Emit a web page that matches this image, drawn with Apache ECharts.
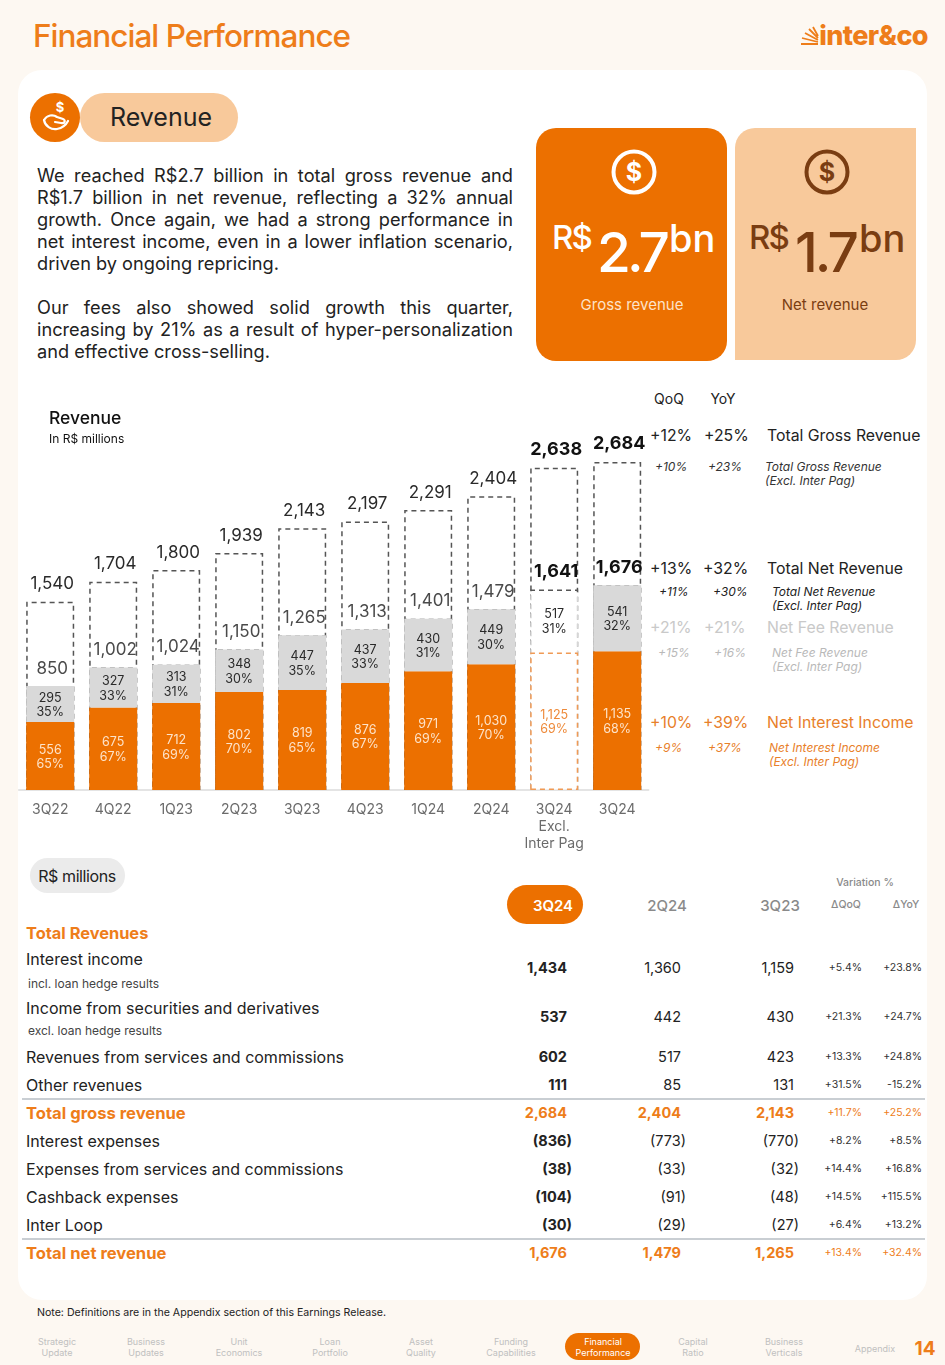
<!DOCTYPE html>
<html>
<head>
<meta charset="utf-8">
<title>Financial Performance</title>
<script src="https://cdn.jsdelivr.net/npm/echarts@6/dist/echarts.min.js"></script>
<style>
	html, body { margin: 0; padding: 0; }
	body { width: 945px; height: 1365px; background: #fdf8f2; position: relative; overflow: hidden; font-family: Inter, sans-serif; color: #222; }
	.box { position: absolute; }
	.t { position: absolute; white-space: nowrap; line-height: 1; }
	#chart { position: absolute; left: 0; top: 390px; width: 650px; height: 470px; }
	.para { position: absolute; left: 37px; width: 476px; font-size: 18.2px; line-height: 22px; color: #222; }
	.para div { text-align: justify; text-align-last: justify; white-space: nowrap; height: 22px; }
	.para div.last { text-align-last: left; }
</style>
</head>
<body>
<div class="box" style="left:18px;top:70px;width:909px;height:1230px;background:#fff;border-radius:24px"></div>
<div class="box" style="left:30px;top:93px;width:50px;height:49px;background:#ec7000;border-radius:50%"></div>
<div class="box" style="left:80px;top:93px;width:158px;height:49px;background:#f8c99b;border-radius:25px"></div>
<div class="box" style="left:536px;top:128px;width:191px;height:233px;background:#ec7000;border-radius:20px"></div>
<div class="box" style="left:735px;top:128px;width:181px;height:232px;background:#f8c99b;border-radius:20px 0 20px 0"></div>
<div class="box" style="left:507px;top:885px;width:76px;height:39px;background:#ec7000;border-radius:20px"></div>
<div class="box" style="left:30px;top:858px;width:95px;height:35px;background:#ebebeb;border-radius:18px"></div>
<div class="box" style="left:22px;top:1098px;width:903px;height:2px;background:#c9ced3"></div>
<div class="box" style="left:22px;top:1238px;width:903px;height:2px;background:#c9ced3"></div>
<div class="box" style="left:565px;top:1333px;width:75px;height:27px;background:#ec7000;border-radius:14px"></div>

<svg class="box" style="left:0;top:0" width="945" height="400" fill="none">
	<!-- logo sunburst -->
	<g stroke="#ee7d1a" stroke-width="1.8">
		<path d="M818 44H801M818 42L802 38M818 40L805 33M818 38L809 29M818 36L813 27" />
	</g>
	<!-- hand icon -->
	<g stroke="#fff" stroke-width="2.2" stroke-linecap="round" stroke-linejoin="round">
		<path d="M44 120c3-5 9-6 13-3l6 2c3 1 2 5-2 4l-6-1" />
		<path d="M44 120c1 6 7 10 13 9 5-1 9-4 11-8" />
	</g>
	<text x="60" y="112" fill="#fff" font-size="13" font-weight="700" text-anchor="middle" font-family="Inter">$</text>
	<!-- dollar badges -->
	<circle cx="634" cy="172" r="20.5" stroke="#fff" stroke-width="4" />
	<text x="634" y="181" fill="#fff" font-size="25" font-weight="700" text-anchor="middle" font-family="Inter">$</text>
	<circle cx="827" cy="172" r="20.5" stroke="#7a3d12" stroke-width="4" />
	<text x="827" y="181" fill="#7a3d12" font-size="25" font-weight="700" text-anchor="middle" font-family="Inter">$</text>
</svg>

<div class="para" style="top:164px">
	<div>We reached R$2.7 billion in total gross revenue and</div>
	<div>R$1.7 billion in net revenue, reflecting a 32% annual</div>
	<div>growth. Once again, we had a strong performance in</div>
	<div>net interest income, even in a lower inflation scenario,</div>
	<div class="last">driven by ongoing repricing.</div>
</div>
<div class="para" style="top:296px">
	<div>Our fees also showed solid growth this quarter,</div>
	<div>increasing by 21% as a result of hyper-personalization</div>
	<div class="last">and effective cross-selling.</div>
</div>

<div id="chart"></div>

<script>
// 營收圖資料
var quarters = ["3Q22", "4Q22", "1Q23", "2Q23", "3Q23", "4Q23", "1Q24", "2Q24", "3Q24\nExcl.\nInter Pag", "3Q24"];
var interestIncome = [556, 675, 712, 802, 819, 876, 971, 1030, 1125, 1135];
var interestShare = [65, 67, 69, 70, 65, 67, 69, 70, 69, 68];
var feeRevenue = [295, 327, 313, 348, 447, 437, 430, 449, 517, 541];
var feeShare = [35, 33, 31, 30, 35, 33, 31, 30, 31, 32];
var netRevenue = [850, 1002, 1024, 1150, 1265, 1313, 1401, 1479, 1641, 1676];
var grossRevenue = [1540, 1704, 1800, 1939, 2143, 2197, 2291, 2404, 2638, 2684];

// 右側成長率
var growthQoq = ["+12%", "+13%", "+21%", "+10%"];
var growthYoy = ["+25%", "+32%", "+21%", "+39%"];
var growthNames = ["Total Gross Revenue", "Total Net Revenue", "Net Fee Revenue", "Net Interest Income"];
var exclQoq = ["+10%", "+11%", "+15%", "+9%"];
var exclYoy = ["+23%", "+30%", "+16%", "+37%"];

// 表格
var rowLabels = ["Interest income", "Income from securities and derivatives", "Revenues from services and commissions", "Other revenues", "Total gross revenue", "Interest expenses", "Expenses from services and commissions", "Cashback expenses", "Inter Loop", "Total net revenue"];
var col3Q24 = ["1,434", "537", "602", "111", "2,684", "(836)", "(38)", "(104)", "(30)", "1,676"];
var col2Q24 = ["1,360", "442", "517", "85", "2,404", "(773)", "(33)", "(91)", "(29)", "1,479"];
var col3Q23 = ["1,159", "430", "423", "131", "2,143", "(770)", "(32)", "(48)", "(27)", "1,265"];
var colQoq = ["+5.4%", "+21.3%", "+13.3%", "+31.5%", "+11.7%", "+8.2%", "+14.4%", "+14.5%", "+6.4%", "+13.4%"];
var colYoy = ["+23.8%", "+24.7%", "+24.8%", "-15.2%", "+25.2%", "+8.5%", "+16.8%", "+115.5%", "+13.2%", "+32.4%"];

var navItems = ["Strategic\nUpdate", "Business\nUpdates", "Unit\nEconomics", "Loan\nPortfolio", "Asset\nQuality", "Funding\nCapabilities", "Financial\nPerformance", "Capital\nRatio", "Business\nVerticals"];

var ORANGE = "#ec7000";
var EXCL = 8;

function put(text, x, y, o) {
	o = o || {};
	var el = document.createElement("div");
	el.className = "t";
	el.textContent = text;
	el.style.left = x + "px";
	el.style.top = y + "px";
	el.style.fontSize = (o.size || 14) + "px";
	el.style.color = o.color || "#222";
	if (o.weight) el.style.fontWeight = o.weight;
	if (o.italic) el.style.fontStyle = "italic";
	if (o.spacing) el.style.letterSpacing = o.spacing + "px";
	var tx = o.align === "right" ? "-100%" : o.align === "center" ? "-50%" : "0";
	el.style.transform = "translate(" + tx + ",-50%)";
	document.body.appendChild(el);
}

// 頁首
put("Financial Performance", 33, 36, { size: 31.5, color: "#ee7d1a", weight: 500, spacing: -1 });
put("inter&co", 928, 35, { size: 27, color: "#ee7d1a", weight: 800, align: "right", spacing: -0.6 });
put("Revenue", 161, 117, { size: 25, align: "center" });

// 卡片
put("R$", 552, 237, { size: 33, color: "#fff", weight: 500, spacing: -2 });
put("2.7", 597, 252, { size: 55, color: "#fff", weight: 500, spacing: -4 });
put("bn", 669, 238, { size: 38, color: "#fff", weight: 500 });
put("Gross revenue", 632, 304, { size: 15, color: "#fde3c9", align: "center" });
put("R$", 749, 237, { size: 33, color: "#7a3d12", weight: 500, spacing: -2 });
put("1.7", 795, 252, { size: 55, color: "#7a3d12", weight: 500, spacing: -3 });
put("bn", 859, 238, { size: 38, color: "#7a3d12", weight: 500 });
put("Net revenue", 825, 304, { size: 15, color: "#7a3d12", align: "center" });

// 成長率欄
var growthY = [436, 569, 628, 723];
var growthColor = ["#222", "#222", "#c9c9c9", "#e8802a"];
var exclColor = ["#333", "#222", "#b9b9b9", "#e8802a"];
var exclRows = [
	{ y: 467, q: 655, a: 708, n: 765 },
	{ y: 592, q: 659, a: 713, n: 772 },
	{ y: 653, q: 658, a: 714, n: 772 },
	{ y: 748, q: 655, a: 708, n: 769 }
];
put("QoQ", 669, 399, { size: 14, align: "center" });
put("YoY", 723, 399, { size: 14, align: "center" });
growthNames.forEach(function(name, i) {
	put(growthQoq[i], 650, growthY[i], { size: 15.8, color: growthColor[i] });
	put(growthYoy[i], i === 0 || i === 2 ? 704 : 703, growthY[i], { size: 15.8, color: growthColor[i] });
	put(name, 767, growthY[i], { size: 15.8, color: growthColor[i] });
	var r = exclRows[i];
	var st = { size: 12, color: exclColor[i], italic: true };
	put(exclQoq[i], r.q, r.y, st);
	put(exclYoy[i], r.a, r.y, st);
	put(name, r.n, r.y, st);
	put("(Excl. Inter Pag)", r.n, r.y + 14, st);
});

// 表格
put("R$ millions", 77, 876, { size: 16, align: "center", spacing: -0.4 });
put("Variation %", 865, 883, { size: 10.5, color: "#8a8a8a", align: "center", weight: 500 });
put("3Q24", 553, 905, { size: 15, color: "#fff", align: "center", weight: 600 });
put("2Q24", 667, 905, { size: 15, color: "#8a8a8a", align: "center", weight: 500 });
put("3Q23", 780, 905, { size: 15, color: "#8a8a8a", align: "center", weight: 500 });
put("ΔQoQ", 846, 905, { size: 10.5, color: "#8a8a8a", align: "center", weight: 500 });
put("ΔYoY", 906, 905, { size: 10.5, color: "#8a8a8a", align: "center", weight: 500 });
put("Total Revenues", 26, 933, { size: 16.4, color: "#ee7d1a", weight: 700 });
put("incl. loan hedge results", 28, 984, { size: 12, color: "#444" });
put("excl. loan hedge results", 28, 1031, { size: 12, color: "#444" });

var labelY = [959, 1008, 1057, 1085, 1113, 1141, 1169, 1197, 1225, 1253];
var valueY = [968, 1017, 1057, 1085, 1113, 1141, 1169, 1197, 1225, 1253];
rowLabels.forEach(function(label, i) {
	var total = i === 4 || i === 9;
	var color = total ? "#ee7d1a" : "#222";
	put(label, 26, labelY[i], { size: total ? 16.6 : 16, color: color, weight: total ? 700 : 400 });
	[[col3Q24, 567, 700], [col2Q24, 681, 400], [col3Q23, 794, 400]].forEach(function(c) {
		var v = c[0][i];
		var right = v.charAt(0) === "(" ? c[1] + 5 : c[1];
		put(v, right, valueY[i], { size: 14.5, color: color, weight: total ? 700 : c[2], align: "right" });
	});
	put(colQoq[i], 862, valueY[i], { size: 10.5, color: total ? "#ee7d1a" : "#333", align: "right" });
	put(colYoy[i], 922, valueY[i], { size: 10.5, color: total ? "#ee7d1a" : "#333", align: "right" });
});

// 頁尾
put("Note: Definitions are in the Appendix section of this Earnings Release.", 37, 1313, { size: 10.6 });
var navX = [57, 146, 239, 330, 421, 511, 603, 693, 784];
navItems.forEach(function(item, i) {
	var lines = item.split("\n");
	var color = i === 6 ? "#fff" : "#c0c0c0";
	put(lines[0], navX[i], 1341, { size: 9, color: color, align: "center" });
	put(lines[1], navX[i], 1352, { size: 9, color: color, align: "center" });
});
put("Appendix", 875, 1348, { size: 9, color: "#c0c0c0", align: "center" });
put("14", 925, 1348, { size: 19, color: "#ee7d1a", weight: 700, align: "center" });

// 長條圖
var myChart = echarts.init(document.getElementById("chart"), null, { renderer: "canvas" });

var dashBox = { color: "rgba(255,255,255,0)", borderColor: "#555", borderWidth: 1.5, borderType: [5, 4] };

// 虛線框頂端深色、兩側淺色
var exclNetBorder = {
	type: "linear", x: 0, y: 0, x2: 0, y2: 1,
	colorStops: [
		{ offset: 0, color: "#555" },
		{ offset: 0.012, color: "#555" },
		{ offset: 0.013, color: "#d6d6d6" },
		{ offset: 1, color: "#d6d6d6" }
	]
};

function boxData(values, excl) {
	return values.map(function(v, i) {
		if (i !== EXCL) return v;
		return { value: v, itemStyle: excl };
	});
}

function totalLabel(plainColor) {
	return {
		show: true,
		position: "top",
		distance: 9,
		offset: [2, 0],
		fontSize: 17,
		color: plainColor,
		fontFamily: "Inter",
		rich: {
			b: { fontSize: 18, fontWeight: 700, color: "#111", fontFamily: "Inter" }
		},
		formatter: function(p) {
			var s = p.value.toLocaleString("en-US");
			return p.dataIndex >= EXCL ? "{b|" + s + "}" : s;
		}
	};
}

function shareLabel(shares, color, exclColor) {
	return {
		show: true,
		position: "inside",
		offset: [0, 1],
		fontSize: 12.5,
		lineHeight: 14.5,
		color: color,
		fontFamily: "Inter",
		rich: {
			e: { fontSize: 12.5, lineHeight: 14.5, color: exclColor || color, fontFamily: "Inter" }
		},
		formatter: function(p) {
			var s = p.value.toLocaleString("en-US") + "\n" + shares[p.dataIndex] + "%";
			if (p.dataIndex === EXCL && exclColor) {
				return s.split("\n").map(function(l) { return "{e|" + l + "}"; }).join("\n");
			}
			return s;
		}
	};
}

option = {
	animation: false,
	backgroundColor: "transparent",
	title: {
		text: "Revenue",
		subtext: "In R$ millions",
		left: 49,
		top: 20,
		itemGap: 5,
		padding: 0,
		textStyle: { fontFamily: "Inter", fontSize: 17.5, fontWeight: 500, color: "#111" },
		subtextStyle: { fontFamily: "Inter", fontSize: 12, color: "#111" }
	},
	grid: { left: 18.7, top: 33.4, width: 630, height: 366.6 },
	xAxis: {
		type: "category",
		data: quarters,
		axisTick: { show: false },
		axisLine: { lineStyle: { color: "#dcdcdc", width: 1.5 } },
		axisLabel: { color: "#6b6b6b", fontSize: 14, lineHeight: 17, margin: 11, fontFamily: "Inter", interval: 0 }
	},
	yAxis: { type: "value", min: 0, max: 3000, show: false },
	series: [
		{
			name: "Total Gross Revenue",
			type: "bar",
			barWidth: 48,
			barGap: "-100%",
			data: grossRevenue,
			itemStyle: dashBox,
			label: totalLabel("#2a2a2a")
		},
		{
			name: "Total Net Revenue",
			type: "bar",
			barWidth: 48,
			barGap: "-100%",
			data: boxData(netRevenue, { color: "#fff", borderColor: exclNetBorder, borderWidth: 1.5, borderType: [5, 4] }),
			itemStyle: { color: "#fff", borderColor: "#555", borderWidth: 1.5, borderType: [5, 4] },
			label: totalLabel("#4a4a4a")
		},
		{
			name: "Net Interest Income",
			type: "bar",
			stack: "net",
			barWidth: 48,
			barGap: "-100%",
			data: boxData(interestIncome, { color: "#fff", borderColor: "#f09a55", borderWidth: 1.5, borderType: [5, 4] }),
			itemStyle: { color: ORANGE },
			label: shareLabel(interestShare, "#fde3c9", "#ee8a3a")
		},
		{
			name: "Net Fee Revenue",
			type: "bar",
			stack: "net",
			barWidth: 48,
			barGap: "-100%",
			data: boxData(feeRevenue, { color: "rgba(255,255,255,0)", borderWidth: 0 }),
			itemStyle: { color: "#d9d9d9" },
			label: shareLabel(feeShare, "#2a2a2a")
		}
	]
};
myChart.setOption(option);
window.addEventListener("resize", myChart.resize);
</script>
</body>
</html>
